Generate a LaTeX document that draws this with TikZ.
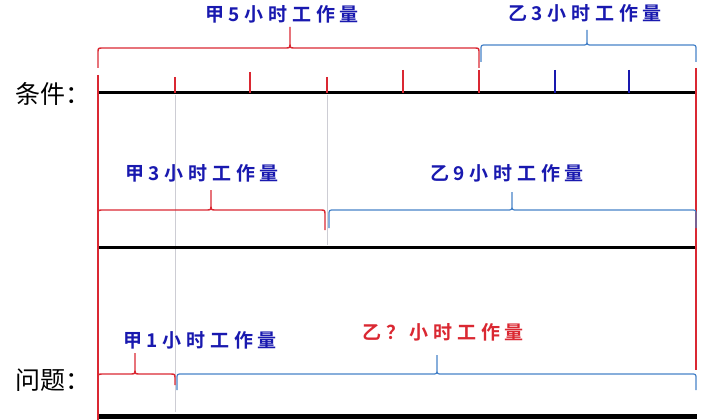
\documentclass[tikz,border=0pt]{standalone}
\usepackage{fontspec}
\usepackage{tikz}
\usetikzlibrary{positioning}
\newfontfamily\cjk{Noto Sans CJK SC}
\newfontfamily\cjkbold{Noto Sans CJK SC Bold}[LetterSpace=25]
\definecolor{jiared}{RGB}{218,40,50}
\definecolor{yiblue}{RGB}{70,130,200}
\definecolor{txtblue}{RGB}{25,25,175}
\definecolor{guidegray}{RGB}{205,205,212}
\tikzstyle{segline} = [line width=3pt,black]
\tikzstyle{redtick} = [line width=1.4pt,jiared]
\tikzstyle{bluetick} = [line width=1.4pt,txtblue]
\tikzstyle{guide} = [line width=1pt,guidegray]
\tikzstyle{redbrace} = [line width=1.4pt,jiared]
\tikzstyle{bluebrace} = [line width=1.2pt,yiblue]
\tikzstyle{lbl} = [font=\cjkbold\fontsize{19}{19}\selectfont,text=txtblue,inner sep=0pt]
\tikzstyle{rowname} = [font=\cjk\fontsize{25}{25}\selectfont,inner sep=0pt]
% brace: style, x1, x2, xm, yend, ybar, ytip
\newcommand{\hbrace}[7]{%
  \draw[#1] (#2,#5) -- (#2,#6+5) .. controls (#2,#6) .. (#2+5,#6) -- (#4-5,#6)
    .. controls (#4,#6) .. (#4,#6-5) -- (#4,#7) -- (#4,#6-5)
    .. controls (#4,#6) .. (#4+5,#6) -- (#3-5,#6) .. controls (#3,#6) .. (#3,#6+5) -- (#3,#5);}

\begin{document}
\begin{tikzpicture}[x=1pt,y=-1pt]
\useasboundingbox (0,0) rectangle (718,420);

% guide lines
\draw[guide] (175,95) -- (175,412);
\draw[guide] (327,95) -- (327,245);

% segments
\draw[segline] (98,93) -- (697,93);
\draw[segline] (98,247) -- (697,247);
\draw[segline, line width=5pt] (98,416) -- (697,416);

% ticks
\foreach \x/\y in {175/77,250/72,327/77,403/70,479/70}
  \draw[redtick] (\x,\y) -- (\x,93);
\foreach \x in {555,629}
  \draw[bluetick] (\x,70) -- (\x,93);
\draw[redtick] (98,75) -- (98,420);
\draw[redtick] (696,68) -- (696,370);

% braces
\hbrace{redbrace}{98}{479}{290}{68}{48}{27}
\hbrace{bluebrace}{481}{696}{587}{62}{45}{30}
\hbrace{redbrace}{98}{325}{211}{230}{210}{190}
\hbrace{bluebrace}{329}{696}{512}{228}{210}{192}
\hbrace{redbrace}{98}{175}{135}{385}{374}{353}
\hbrace{bluebrace}{177}{696}{437}{390}{374}{355}

% labels
\node[lbl] (jia5) at (282,14) {甲5小时工作量};
\node[lbl] (yi3) at (585,13) {乙3小时工作量};
\node[lbl] (jia3) at (202,173) {甲3小时工作量};
\node[lbl] (yi9) at (507,173) {乙9小时工作量};
\node[lbl] (jia1) at (200,340) {甲1小时工作量};
\node[lbl, text=jiared] (yiq) at (443,332) {乙？小时工作量};

% row names
\node[rowname] (cond) at (53,94) {条件：};
\node[rowname] (ques) at (53,380) {问题：};
\end{tikzpicture}
\end{document}
